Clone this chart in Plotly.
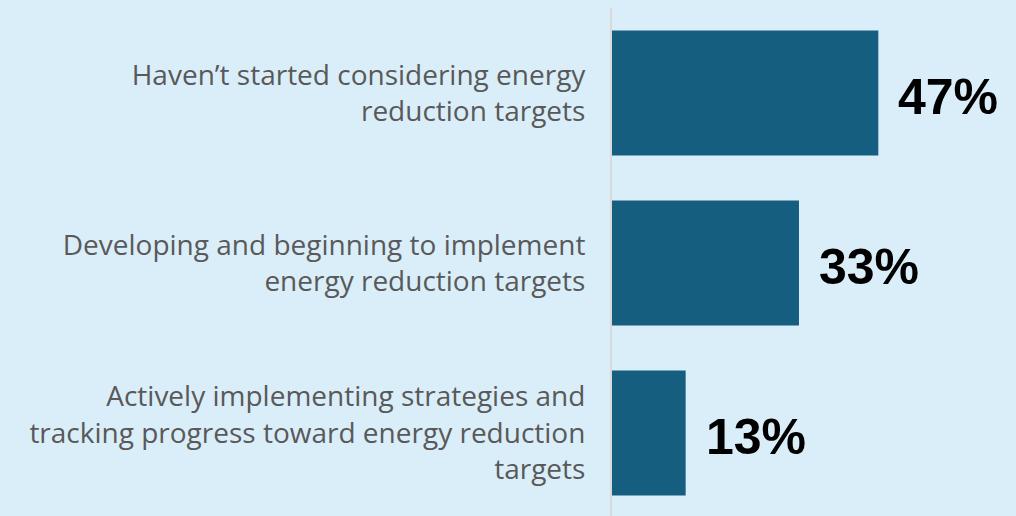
import plotly.graph_objects as go

categories = [
    "Haven’t started considering energy<br>reduction targets",
    "Developing and beginning to implement<br>energy reduction targets",
    "Actively implementing strategies and<br>tracking progress toward energy reduction<br>targets",
]
values = [47, 33, 13]
value_labels = ["47%", "33%", "13%"]

BG = "#D9EEF9"
BAR = "#165E80"

fig = go.Figure(
    go.Bar(
        x=values,
        y=categories,
        orientation="h",
        marker=dict(color=BAR, line=dict(width=0)),
        hoverinfo="skip",
    )
)

# value labels sit a little right of each bar end
for cat, val, lab in zip(categories, values, value_labels):
    fig.add_annotation(
        x=val, y=cat, text=lab, showarrow=False,
        xanchor="left", xshift=18, yshift=-4,
        font=dict(family="Liberation Sans", size=50, color="#000000", weight="bold"),
    )

fig.update_layout(
    width=1016,
    height=516,
    paper_bgcolor=BG,
    plot_bgcolor=BG,
    margin=dict(l=612, r=0, t=8, b=0),
    bargap=0.265,
    showlegend=False,
)

fig.update_xaxes(
    range=[0, 71.3],
    showgrid=False,
    zeroline=False,
    showticklabels=False,
    showline=False,
)
fig.update_yaxes(
    range=[2.488, -0.5],
    showgrid=False,
    zeroline=False,
    showline=True,
    linecolor="#D9D9D9",
    linewidth=2,
    ticks="",
    ticklabelstandoff=19,
    tickfont=dict(family="Open Sans", size=28, color="#595959"),
)

fig.write_html(
    "out.html",
    config={"displayModeBar": False},
    post_script="document.body.style.margin='0';",
)
